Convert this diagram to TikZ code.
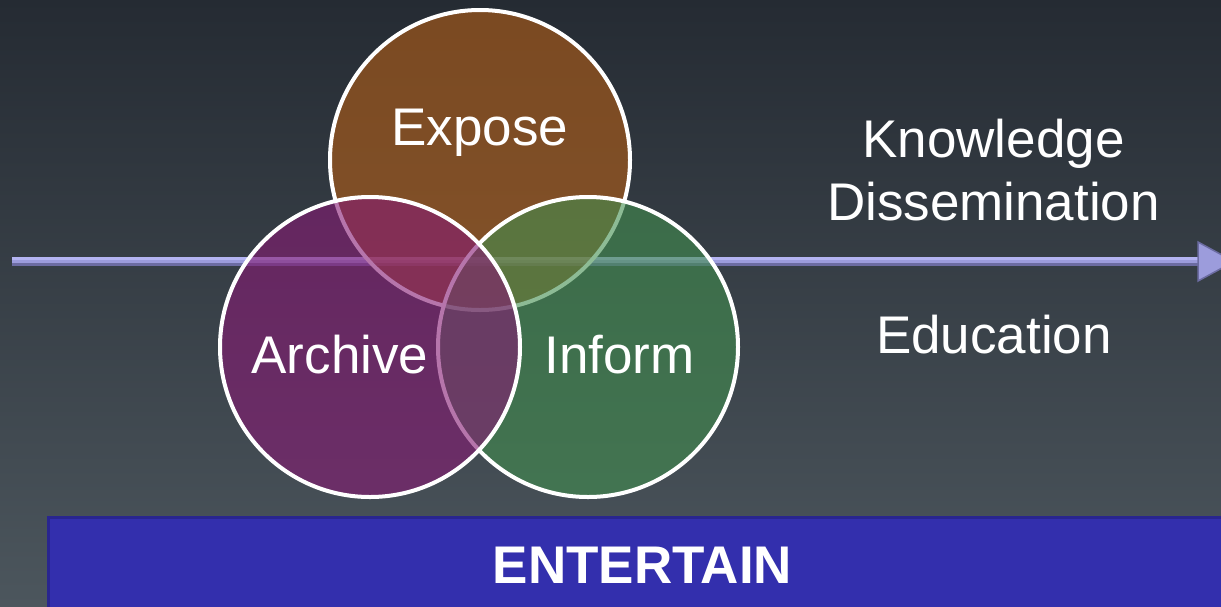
\documentclass[tikz,border=0pt]{standalone}
\usepackage{fontspec}
\setmainfont{Liberation Sans}
\definecolor{bgtop}{HTML}{252B33}
\definecolor{bgbot}{HTML}{4C565D}
\definecolor{exposec}{HTML}{B45E16}
\definecolor{archivec}{HTML}{861A74}
\definecolor{informc}{HTML}{428E4F}
\definecolor{arrowmid}{HTML}{9C9CDC}
\definecolor{arrowlight}{HTML}{B4B4F2}
\definecolor{arrowdark}{HTML}{6C6CA2}
\definecolor{barfill}{HTML}{332FAD}
\definecolor{barline}{HTML}{29258F}
\tikzset{
  venn/.style={circle, minimum size=300pt, inner sep=0pt, draw=white, line width=4pt, fill opacity=0.6},
  lbl/.style={text=white, anchor=base, inner sep=0pt, font=\fontsize{53pt}{63pt}\selectfont},
  barbox/.style={draw=barline, fill=barfill, line width=3pt, anchor=north west, minimum width=1200pt, minimum height=110pt, inner sep=0pt}
}
\begin{document}
\begin{tikzpicture}[x=1pt,y=-1pt]
\useasboundingbox (0,0) rectangle (1221,606);
\shade[top color=bgtop, bottom color=bgbot] (0,0) rectangle (1221,606);
% arrow
\coordinate (arrS) at (12,261.5);
\coordinate (arrE) at (1198,261.5);
\draw[line width=9pt, arrowmid] (arrS) -- (arrE);
\draw[line width=2.5pt, arrowlight] ([yshift=2.8pt]arrS) -- ([yshift=2.8pt]arrE);
\draw[line width=2.5pt, arrowdark] ([yshift=-3pt]arrS) -- ([yshift=-3pt]arrE);
\fill[arrowmid, draw=arrowdark, line width=1.5pt, line join=miter] (arrE) ++(0,-19.5) -- ++(36,19.5) -- ++(-36,19.5) -- cycle;
% circles
\node[venn, fill=exposec] (expose) at (480,160) {};
\node[venn, fill=informc] (inform) at (588,347) {};
\node[venn, fill=archivec] (archive) at (370,347) {};
% labels
\node[lbl] (tExpose) at (480,145) {Expose};
\node[lbl] (tArchive) at (340,373) {Archive};
\node[lbl] (tInform) at (619.5,373) {Inform};
\node[lbl] (tKnow) at (993.5,157) {Knowledge};
\node[lbl] (tDiss) at (993.5,220) {Dissemination};
\node[lbl] (tEdu) at (994,353) {Education};
% bar
\node[barbox] (bar) at (47,516) {};
\node[lbl, font=\fontsize{53pt}{63pt}\selectfont\bfseries] (tEnt) at (642.5,583) {ENTERTAIN};
\end{tikzpicture}
\end{document}
